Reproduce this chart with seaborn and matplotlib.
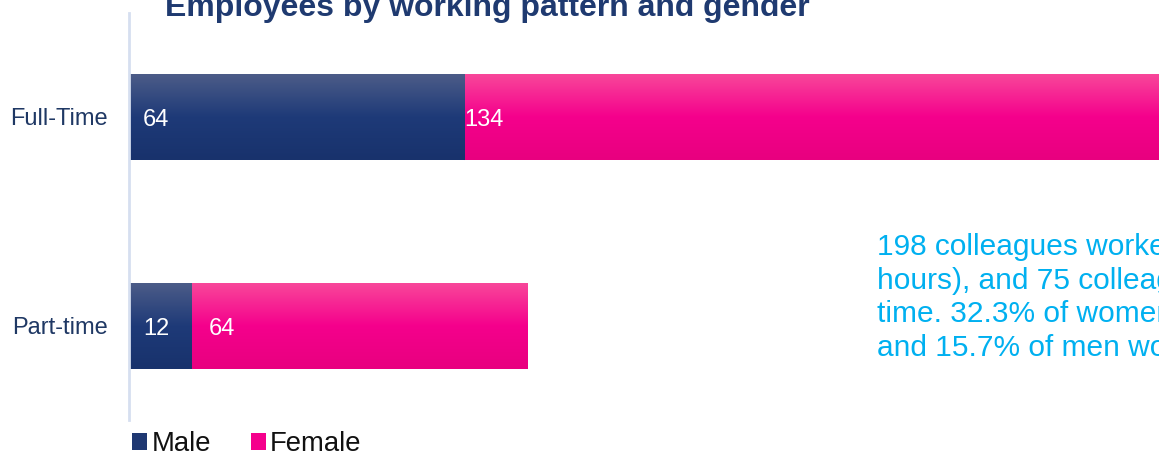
import numpy as np
import pandas as pd
import matplotlib
matplotlib.use("Agg")
import matplotlib.pyplot as plt
import seaborn as sns
from matplotlib.colors import LinearSegmentedColormap
from matplotlib.patches import Patch
import matplotlib.transforms as mtransforms

# ---- data ----
categories = ["Full-Time", "Part-time"]
male = [64, 12]
female = [134, 64]
series_names = ["Male", "Female"]
title = "Employees by working pattern and gender"
note_lines = [
    "198 colleagues worked full-time (37.5",
    "hours), and 75 colleagues worked part-",
    "time. 32.3% of women work part-time",
    "and 15.7% of men work part-time.",
]

sns.set_theme(style="white")
plt.rcParams["font.family"] = ["Liberation Sans", "DejaVu Sans"]

NAVY = "#1f3872"
PINK = "#f5008c"
navy_cmap = LinearSegmentedColormap.from_list("navy", ["#4c5c88", "#1e3a78", "#18326c"])
pink_cmap = LinearSegmentedColormap.from_list("pink", ["#f8479a", "#f5008c", "#e8007f"])

W, H = 1159, 453
fig = plt.figure(figsize=(W / 100, H / 100), dpi=100)
ax = fig.add_axes([129 / W, 1 - 420 / H, 1037.5 / W, 407 / H])

df = pd.DataFrame({"cat": categories, "male": male,
                   "total": np.array(male) + np.array(female)})

sns.barplot(data=df, x="total", y="cat", orient="h", color=PINK,
            width=0.407, saturation=1, ax=ax)
n_f = len(ax.patches)
sns.barplot(data=df, x="male", y="cat", orient="h", color=NAVY,
            width=0.407, saturation=1, ax=ax)

grad = np.linspace(0, 1, 256).reshape(-1, 1)
for i, p in enumerate(ax.patches):
    cmap = pink_cmap if i < n_f else navy_cmap
    x0, y0 = p.get_x(), p.get_y()
    w, h = p.get_width(), p.get_height()
    im = ax.imshow(grad, cmap=cmap, aspect="auto",
                   extent=[x0, x0 + w, y0 + h, y0], zorder=p.get_zorder() + 0.01 * i)
    im.set_clip_path(p)

ax.set_xlim(0, 198)
ax.set_ylim(1.4498, -0.4976)
ax.set_xlabel("")
ax.set_ylabel("")
ax.set_xticks([])
for s in ["top", "right", "bottom"]:
    ax.spines[s].set_visible(False)
ax.spines["left"].set_color("#d6dff0")
ax.spines["left"].set_linewidth(2)
ax.tick_params(axis="y", length=0, pad=15.5, labelsize=17)
for t in ax.get_yticklabels():
    t.set_color("#1f3864")

# value labels
female_pad = [0, 17]
for i, cat in enumerate(categories):
    tr = ax.transData + mtransforms.ScaledTranslation(14 / 100, -3 / 100, fig.dpi_scale_trans)
    ax.text(0, i, str(male[i]), transform=tr, ha="left", va="center",
            color="white", fontsize=17, zorder=10)
    tr2 = ax.transData + mtransforms.ScaledTranslation(female_pad[i] / 100, -3 / 100, fig.dpi_scale_trans)
    ax.text(male[i], i, str(female[i]), transform=tr2, ha="left", va="center",
            color="white", fontsize=17, zorder=10)

# title
fig.text(487 / W, 1 - 16 / H, title, ha="center", va="baseline",
         fontsize=23, fontweight="bold", color="#1f3a70")

# note text
for k, line in enumerate(note_lines):
    fig.text(877 / W, 1 - (255 + 33.7 * k) / H, line, ha="left", va="baseline",
             fontsize=21.5, color="#00b0f0")

# legend
handles = [Patch(facecolor=NAVY, edgecolor="none"), Patch(facecolor=PINK, edgecolor="none")]
fig.legend(handles, series_names, loc="center left",
           bbox_to_anchor=(113 / W, 1 - 444 / H), ncol=2, frameon=False,
           fontsize=19.8, handlelength=0.55, handleheight=0.55,
           handletextpad=0.15, columnspacing=1.45, borderpad=0.2,
           labelcolor="#111111")

fig.savefig("out.png", dpi=100)
